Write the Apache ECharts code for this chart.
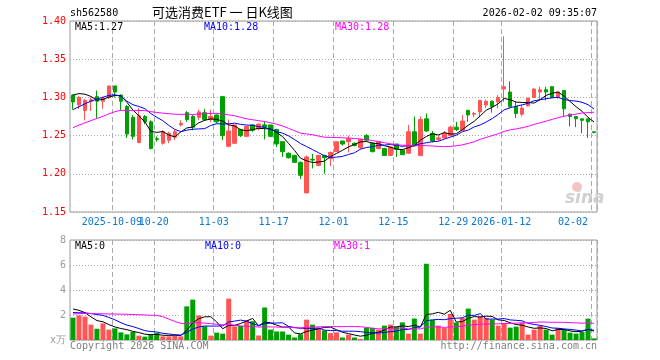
<!DOCTYPE html>
<html><head><meta charset="utf-8">
<script src="https://cdn.jsdelivr.net/npm/echarts@6/dist/echarts.min.js"></script>
<style>html,body{margin:0;padding:0;background:#fff}#c{width:660px;height:360px}</style>
</head><body><div id="c"></div>
<script>
// ---- data ----
const dates = [
'2025-09-22','2025-09-23','2025-09-24','2025-09-25','2025-09-26','2025-09-29','2025-09-30',
'2025-10-09','2025-10-10','2025-10-13','2025-10-14','2025-10-15','2025-10-16','2025-10-17',
'2025-10-20','2025-10-21','2025-10-22','2025-10-23','2025-10-24','2025-10-27','2025-10-28','2025-10-29','2025-10-30','2025-10-31',
'2025-11-03','2025-11-04','2025-11-05','2025-11-06','2025-11-07','2025-11-10','2025-11-11','2025-11-12','2025-11-13','2025-11-14',
'2025-11-17','2025-11-18','2025-11-19','2025-11-20','2025-11-21','2025-11-24','2025-11-25','2025-11-26','2025-11-27','2025-11-28',
'2025-12-01','2025-12-02','2025-12-03','2025-12-04','2025-12-05','2025-12-08','2025-12-09','2025-12-10','2025-12-11','2025-12-12',
'2025-12-15','2025-12-16','2025-12-17','2025-12-18','2025-12-19','2025-12-22','2025-12-23','2025-12-24','2025-12-25','2025-12-26',
'2025-12-29','2025-12-30','2025-12-31',
'2026-01-05','2026-01-06','2026-01-07','2026-01-08','2026-01-09',
'2026-01-12','2026-01-13','2026-01-14','2026-01-15','2026-01-16','2026-01-19','2026-01-20','2026-01-21','2026-01-22','2026-01-23',
'2026-01-26','2026-01-27','2026-01-28','2026-01-29','2026-01-30',
'2026-02-02'];
const opens = [
1.303,1.290,1.283,1.295,1.301,1.295,1.300,1.315,1.303,1.288,
1.274,1.241,1.275,1.268,1.246,1.240,1.244,1.248,1.264,1.280,
1.275,1.274,1.280,1.271,1.277,1.301,1.236,1.240,1.258,1.249,
1.264,1.259,1.264,1.264,1.258,1.242,1.227,1.224,1.215,1.175,
1.219,1.211,1.224,1.220,1.229,1.243,1.242,1.240,1.234,1.250,
1.240,1.233,1.233,1.224,1.239,1.231,1.227,1.255,1.224,1.272,
1.253,1.245,1.247,1.250,1.261,1.257,1.283,1.278,1.281,1.290,
1.295,1.294,1.311,1.307,1.288,1.278,1.289,1.300,1.307,1.310,
1.314,1.300,1.309,1.278,1.275,1.272,1.272,1.255];
const closes = [
1.294,1.300,1.296,1.297,1.295,1.299,1.315,1.307,1.295,1.252,
1.249,1.276,1.268,1.233,1.245,1.255,1.253,1.255,1.266,1.271,
1.261,1.281,1.271,1.275,1.268,1.250,1.256,1.264,1.250,1.262,
1.257,1.265,1.261,1.249,1.239,1.229,1.221,1.215,1.198,1.222,
1.218,1.224,1.221,1.228,1.242,1.239,1.246,1.237,1.245,1.244,
1.229,1.242,1.224,1.235,1.232,1.225,1.255,1.237,1.271,1.256,
1.243,1.247,1.253,1.261,1.258,1.269,1.277,1.279,1.296,1.295,
1.288,1.300,1.314,1.288,1.279,1.286,1.299,1.311,1.310,1.307,
1.300,1.307,1.285,1.275,1.272,1.270,1.268,1.254];
const lows = [
1.284,1.285,1.270,1.282,1.273,1.285,1.298,1.300,1.283,1.247,
1.245,1.240,1.265,1.232,1.242,1.238,1.240,1.244,1.262,1.268,
1.257,1.270,1.269,1.268,1.266,1.244,1.235,1.239,1.248,1.248,
1.255,1.257,1.245,1.248,1.235,1.222,1.220,1.215,1.193,1.175,
1.207,1.210,1.200,1.210,1.229,1.237,1.228,1.236,1.232,1.243,
1.228,1.232,1.224,1.224,1.222,1.225,1.226,1.236,1.223,1.255,
1.241,1.243,1.246,1.249,1.256,1.256,1.268,1.274,1.274,1.286,
1.280,1.286,1.294,1.286,1.273,1.275,1.288,1.299,1.296,1.296,
1.299,1.298,1.275,1.262,1.261,1.253,1.247,1.253];
const highs = [
1.304,1.302,1.298,1.300,1.309,1.301,1.315,1.315,1.304,1.290,
1.277,1.286,1.277,1.270,1.249,1.257,1.255,1.258,1.270,1.282,
1.277,1.284,1.285,1.284,1.278,1.301,1.271,1.264,1.259,1.263,
1.265,1.266,1.269,1.264,1.259,1.242,1.228,1.225,1.216,1.224,
1.226,1.225,1.225,1.229,1.242,1.243,1.250,1.241,1.246,1.252,
1.241,1.242,1.234,1.236,1.239,1.231,1.264,1.275,1.275,1.279,
1.256,1.250,1.256,1.263,1.268,1.277,1.284,1.281,1.297,1.297,
1.296,1.303,1.380,1.321,1.294,1.290,1.299,1.312,1.314,1.314,
1.315,1.307,1.309,1.279,1.275,1.272,1.272,1.255];
// volume, in 10k units
const volumes = [
1.79,1.97,1.87,1.23,0.90,1.33,0.83,0.93,0.61,0.45,
0.64,0.35,0.27,0.43,0.56,0.29,0.29,0.35,0.29,2.69,
3.23,1.97,1.09,0.35,0.59,0.51,3.31,1.09,1.12,1.60,
1.50,0.36,2.60,0.83,0.68,0.68,0.43,0.20,0.46,1.63,
1.23,0.96,0.77,0.55,0.61,0.20,0.43,0.20,0.09,0.98,
0.98,0.83,1.15,1.23,1.06,1.41,0.51,1.72,0.51,6.10,
1.60,1.15,0.96,2.08,1.39,1.76,2.51,1.63,1.89,1.76,
1.63,1.15,1.36,0.99,1.07,1.36,0.43,0.83,1.15,0.83,
0.43,0.96,0.83,0.59,0.51,0.64,1.71,0.13];
// sessions before the first visible day (off-chart, estimated from the MA lines' left ends)
const priorCloses = [
1.200,1.205,1.208,1.212,1.215,1.218,1.222,
1.240,1.255,1.262,1.268,1.272,1.275,1.278,1.280,1.276,1.274,1.272,1.270,1.268,
1.262,1.258,1.262,1.268,1.275,
1.290,1.300,1.312,1.319];
const priorVolumes = [
1.20,1.30,1.50,1.40,1.30,1.43,
0.90,1.00,0.80,1.10,0.90,0.85,1.00,0.99,
3.50,5.80,6.20,4.80,3.80,
0.60,
2.20,1.90,1.80,1.70,2.00,
2.50,2.80,2.90,2.41];
const tickDates = ['2025-10-09','2025-10-20','2025-11-03','2025-11-17','2025-12-01','2025-12-15','2025-12-29','2026-01-12','2026-02-02'];
const tickTexts = ['2025-10-09','10-20','11-03','11-17','12-01','12-15','12-29','2026-01-12','02-02'];

// ---- build ----
const UP = '#ff5555', DOWN = '#00a000';
const MONO = '"DejaVu Sans Mono", monospace';
const tickIdx = tickDates.map(d => dates.indexOf(d));
// the first label overlaps its neighbour in the original, so it goes on its own overlay axis
const firstTick = tickIdx[0];
function movingAvg(prior, vals, n) {
  const all = prior.concat(vals), off = prior.length;
  return vals.map((_, i) => {
    let s = 0;
    for (let k = off + i - n + 1; k <= off + i; k++) s += all[k];
    return s / n;
  });
}
const ma5 = movingAvg(priorCloses, closes, 5);
const ma10 = movingAvg(priorCloses, closes, 10);
const ma30 = movingAvg(priorCloses, closes, 30);
const vma5 = movingAvg(priorVolumes, volumes, 5);
const vma10 = movingAvg(priorVolumes, volumes, 10);
const vma30 = movingAvg(priorVolumes, volumes, 30);
const last = a => a[a.length - 1];
const kData = opens.map((o, i) => [o, closes[i], lows[i], highs[i]]);
const vData = volumes.map((v, i) => ({value: v, itemStyle: {color: closes[i] >= opens[i] ? UP : DOWN}}));

const isTick = idx => tickIdx.indexOf(idx) >= 0;
const vSplit = {show: true, interval: isTick, lineStyle: {color: '#aaa', type: [5, 3], width: 1}};
const hSplit = {show: true, lineStyle: {color: '#aaa', type: [1, 2], width: 1}};
const labelBase = {show: true, color: '#0a78d7', fontFamily: MONO, fontSize: 10, margin: 5,
  padding: [0, 6, 0, 0], hideOverlap: false,
  formatter: (v, i) => { const k = tickIdx.indexOf(i); return k >= 0 ? tickTexts[k] : ''; }};
function txt(text, x, y, color, align, font) {
  return {type: 'text', x: x, y: y, silent: true, z: 100,
    style: {text: text, fill: color, font: font || ('10px ' + MONO),
      align: align || 'left', verticalAlign: 'middle', textAlign: align || 'left', textVerticalAlign: 'middle'}};
}
function line(data, color, xi) {
  return {type: 'line', xAxisIndex: xi, yAxisIndex: xi, data: data, showSymbol: false, symbol: 'none',
    smooth: false, lineStyle: {color: color, width: 1}, z: 5, silent: true};
}

const chart = echarts.init(document.getElementById('c'), null, {renderer: 'canvas'});
chart.setOption({
  animation: false,
  backgroundColor: '#fff',
  grid: [
    {left: 70, top: 21, width: 527, height: 191, show: true, borderColor: '#999', borderWidth: 1, backgroundColor: 'transparent'},
    {left: 70, top: 240, width: 527, height: 100, show: true, borderColor: '#999', borderWidth: 1, backgroundColor: 'transparent'}
  ],
  xAxis: [
    {type: 'category', gridIndex: 0, data: dates, boundaryGap: true,
      axisLine: {show: false}, axisTick: {show: false}, splitLine: vSplit,
      axisLabel: Object.assign({}, labelBase, {alignMaxLabel: 'right',
        interval: idx => idx !== firstTick && isTick(idx)})},
    {type: 'category', gridIndex: 1, data: dates, boundaryGap: true,
      axisLine: {show: false}, axisTick: {show: false}, splitLine: vSplit, axisLabel: {show: false}},
    {type: 'category', gridIndex: 0, data: dates, boundaryGap: true, position: 'bottom',
      axisLine: {show: false}, axisTick: {show: false}, splitLine: {show: false},
      axisLabel: Object.assign({}, labelBase, {interval: idx => idx === firstTick})}
  ],
  yAxis: [
    {type: 'value', gridIndex: 0, min: 1.15, max: 1.40, interval: 0.05,
      axisLine: {show: false}, axisTick: {show: false}, splitLine: hSplit,
      axisLabel: {color: '#ff0000', fontFamily: MONO, fontSize: 10, margin: 4, formatter: v => v.toFixed(2)}},
    {type: 'value', gridIndex: 1, min: 0, max: 8, interval: 2,
      axisLine: {show: false}, axisTick: {show: false}, splitLine: hSplit,
      axisLabel: {color: '#999', fontFamily: MONO, fontSize: 10, margin: 4, formatter: v => v === 0 ? 'x万' : String(v)}}
  ],
  series: [
    {type: 'candlestick', xAxisIndex: 0, yAxisIndex: 0, data: kData, barWidth: 4,
      itemStyle: {color: UP, color0: DOWN, borderColor: UP, borderColor0: DOWN, borderWidth: 1}, silent: true},
    line(ma5, '#000000', 0), line(ma10, '#0000ff', 0), line(ma30, '#ff00ff', 0),
    {type: 'bar', xAxisIndex: 1, yAxisIndex: 1, data: vData, barWidth: 5, silent: true},
    line(vma5, '#000000', 1), line(vma10, '#0000ff', 1), line(vma30, '#ff00ff', 1)
  ],
  graphic: [
    txt('sh562580', 70, 13, '#000'),
    txt('可选消费ETF 一 日K线图', 152, 12, '#000', 'left', '13px "Noto Sans CJK SC"'),
    txt('2026-02-02 09:35:07', 597, 13, '#000', 'right'),
    txt('MA5:' + last(ma5).toFixed(2), 75, 27, '#000'),
    txt('MA10:' + last(ma10).toFixed(2), 204, 27, '#0000ff'),
    txt('MA30:' + last(ma30).toFixed(2), 335, 27, '#ff00ff'),
    txt('MA5:' + Math.floor(last(vma5)), 75, 246, '#000'),
    txt('MA10:' + Math.floor(last(vma10)), 205, 246, '#0000ff'),
    txt('MA30:' + Math.floor(last(vma30)), 334, 246, '#ff00ff'),
    txt('Copyright 2026 SINA.COM', 70, 346, '#808080'),
    txt('http://finance.sina.com.cn', 597, 346, '#808080', 'right'),
    {type: 'circle', shape: {cx: 577, cy: 187, r: 5}, style: {fill: '#f6c4c4'}, silent: true, z: 1},
    txt('sina', 565, 199, '#d0d0d0', 'left', 'italic bold 17px "DejaVu Sans"')
  ]
});
</script>
</body></html>
